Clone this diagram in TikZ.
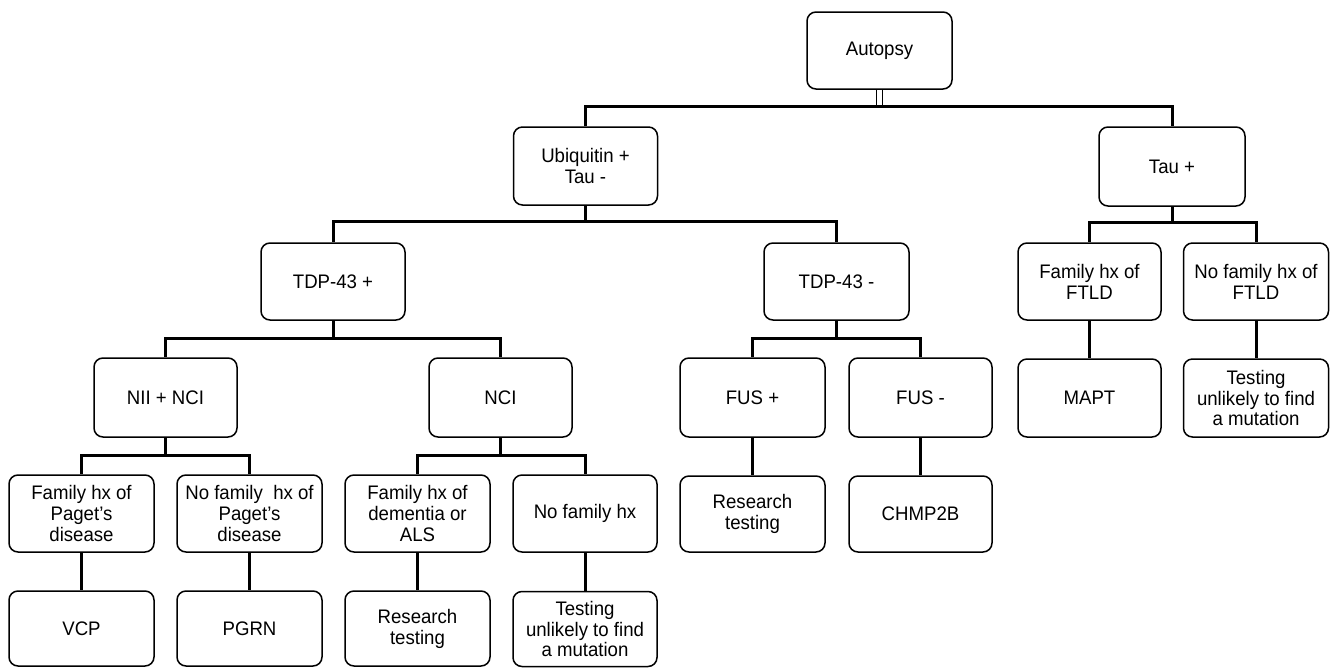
\documentclass[tikz,border=0pt]{standalone}
\usepackage{fontspec}
\setmainfont{Liberation Sans}[FakeStretch=0.95]
\begin{document}
\begin{tikzpicture}[x=1pt,y=-1pt,
  box/.style={draw=black, line width=1.5pt, rounded corners=9pt, align=center,
    font=\fontsize{19.6}{20.9}\selectfont, inner sep=2pt,
    minimum width=144pt, minimum height=77pt},
  conn/.style={draw=black, line width=3pt, line join=miter}]
\useasboundingbox (0,0) rectangle (1331,667);
\fill[white] (0,0) rectangle (1331,667);

% level 0
\node[box, minimum width=145pt] (auto) at (879.5,50.5) {Autopsy};
% level 1
\node[box, minimum height=78pt] (ubi) at (585.5,166) {Ubiquitin +\\Tau -};
\node[box, minimum width=146pt, minimum height=79pt] (tau) at (1172,166.5) {Tau +};
% level 2
\node[box] (tdpp) at (333,281.5) {TDP-43 +};
\node[box, minimum width=145pt] (tdpm) at (836.5,281.5) {TDP-43 -};
\node[box, minimum width=143pt] (fhftld) at (1089.5,281.5) {Family hx of\\FTLD};
\node[box, minimum width=145pt] (nfftld) at (1256,281.5) {No family hx of\\FTLD};
% level 3
\node[box, minimum width=143pt, minimum height=79pt] (nii) at (165.5,397.5) {NII + NCI};
\node[box, minimum width=143pt, minimum height=79pt] (nci) at (500.5,397.5) {NCI};
\node[box, minimum width=145pt, minimum height=79pt] (fusp) at (752.5,397.5) {FUS +};
\node[box, minimum width=143pt, minimum height=79pt] (fusm) at (920.5,397.5) {FUS -};
\node[box, minimum width=143pt, minimum height=78pt] (mapt) at (1089.5,398) {MAPT};
\node[box, minimum width=145pt, minimum height=78pt] (testt) at (1256,398) {Testing\\unlikely to find\\a mutation};
% level 4
\node[box, minimum width=145pt] (fhp) at (81.5,513.5) {Family hx of\\Paget’s\\disease};
\node[box, minimum width=145pt] (nfp) at (249.5,513.5) {No family~ hx of\\Paget’s\\disease};
\node[box, minimum width=145pt] (fhd) at (417.5,513.5) {Family hx of\\dementia or\\ALS};
\node[box] (nfh) at (585,513.5) {No family hx};
\node[box, minimum width=145pt, minimum height=76pt] (rtf) at (752.5,514) {Research\\testing};
\node[box, minimum width=143pt, minimum height=76pt] (chmp) at (920.5,514) {CHMP2B};
% level 5
\node[box, minimum width=145pt, minimum height=75pt] (vcp) at (81.5,628.5) {VCP};
\node[box, minimum width=145pt, minimum height=75pt] (pgrn) at (249.5,628.5) {PGRN};
\node[box, minimum width=145pt, minimum height=75pt] (rtd) at (417.5,628.5) {Research\\testing};
\node[box, minimum height=75pt] (tun) at (585,629) {Testing\\unlikely to find\\a mutation};

% connectors
\draw[black, line width=1.6pt, double=white, double distance=4.2pt] (auto.south) -- ++(0,18);
\draw[conn] (ubi.north) -- ++(0,-20) -| (tau.north);

\draw[conn] (ubi.south) -- ++(0,16) -| (tdpp.north);
\draw[conn] (ubi.south) -- ++(0,16) -| (tdpm.north);
\draw[conn] (tau.south) -- ++(0,16) -| (fhftld.north);
\draw[conn] (tau.south) -- ++(0,16) -| (nfftld.north);

\draw[conn] (tdpp.south) -- ++(0,18) -| (nii.north);
\draw[conn] (tdpp.south) -- ++(0,18) -| (nci.north);
\draw[conn] (tdpm.south) -- ++(0,18) -| (fusp.north);
\draw[conn] (tdpm.south) -- ++(0,18) -| (fusm.north);
\draw[conn] (fhftld.south) -- (mapt.north);
\draw[conn] (nfftld.south) -- (testt.north);

\draw[conn] (nii.south) -- ++(0,18) -| (fhp.north);
\draw[conn] (nii.south) -- ++(0,18) -| (nfp.north);
\draw[conn] (nci.south) -- ++(0,18) -| (fhd.north);
\draw[conn] (nci.south) -- ++(0,18) -| (nfh.north);
\draw[conn] (fusp.south) -- (rtf.north);
\draw[conn] (fusm.south) -- (chmp.north);

\draw[conn] (fhp.south) -- (vcp.north);
\draw[conn] (nfp.south) -- (pgrn.north);
\draw[conn] (fhd.south) -- (rtd.north);
\draw[conn] (nfh.south) -- (tun.north);
\end{tikzpicture}
\end{document}
